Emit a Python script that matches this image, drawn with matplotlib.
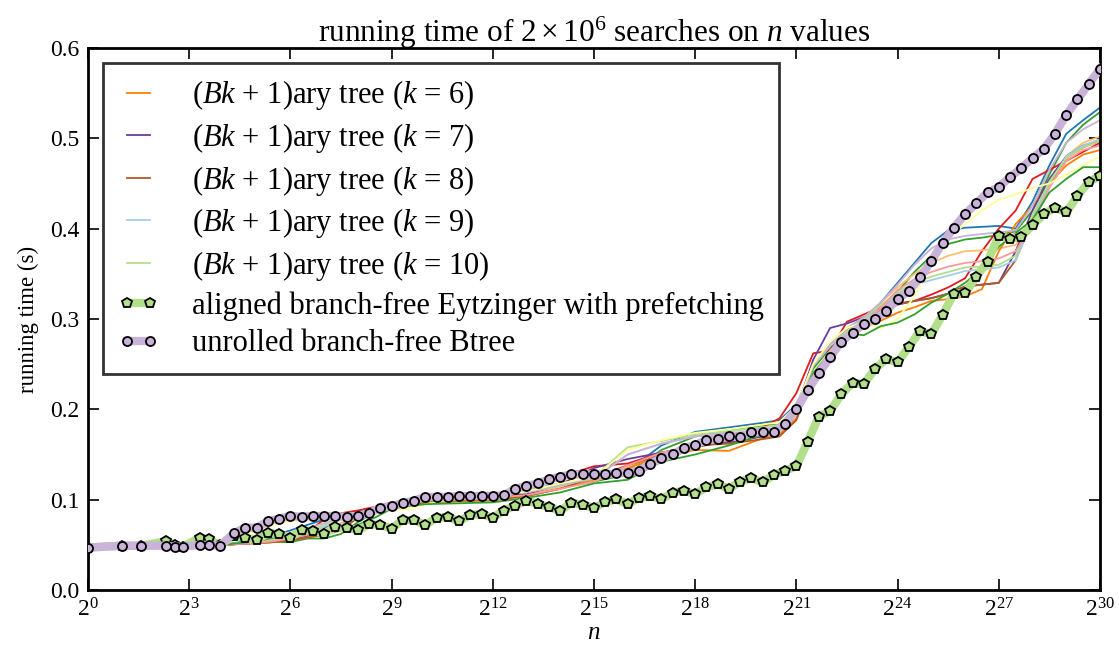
import numpy as np
import matplotlib
matplotlib.use("Agg")
import matplotlib.pyplot as plt
from matplotlib.ticker import FixedLocator, NullLocator

plt.rcParams['font.family'] = ['Liberation Serif', 'DejaVu Serif']
plt.rcParams['mathtext.fontset'] = 'custom'
plt.rcParams['mathtext.rm'] = 'Liberation Serif'
plt.rcParams['mathtext.it'] = 'Liberation Serif:italic'

# ---------------------------------------------------------------------
# x grid of the two highlighted series (log2 n)
marker_log2n = [0, 1, 1.58, 2.32, 2.58, 2.81, 3.32, 3.58, 3.91] + [k / 3 for k in range(13, 91)]

btree = [0.047, 0.049, 0.049, 0.049, 0.048, 0.048, 0.050, 0.050, 0.049,
         0.063, 0.069, 0.069, 0.076, 0.079, 0.082, 0.081, 0.082, 0.082, 0.082,
         0.081, 0.082, 0.085, 0.091, 0.093, 0.096, 0.099, 0.103, 0.103, 0.103,
         0.104, 0.104, 0.104, 0.104, 0.105, 0.112, 0.115, 0.118, 0.1225, 0.1255,
         0.128, 0.128, 0.128, 0.128, 0.129, 0.130, 0.132, 0.140, 0.146, 0.150,
         0.157, 0.1605, 0.166, 0.167, 0.170, 0.169, 0.1746, 0.1746, 0.175, 0.184,
         0.200, 0.221, 0.240, 0.2576, 0.275, 0.285, 0.2945, 0.300, 0.309, 0.322,
         0.331, 0.346, 0.364, 0.384, 0.401, 0.416, 0.428, 0.440, 0.446, 0.457,
         0.467, 0.478, 0.488, 0.505, 0.526, 0.543, 0.560, 0.577]

eytzinger = [0.047, 0.049, 0.049, 0.054, 0.050, 0.048, 0.058, 0.056, 0.050,
             0.060, 0.058, 0.055, 0.063, 0.062, 0.058, 0.066, 0.0655, 0.062,
             0.070, 0.069, 0.066, 0.073, 0.072, 0.068, 0.0775, 0.0775, 0.072,
             0.080, 0.081, 0.076, 0.083, 0.084, 0.080, 0.088, 0.0934, 0.099,
             0.095, 0.092, 0.0875, 0.0967, 0.094, 0.091, 0.097, 0.1004, 0.095,
             0.102, 0.104, 0.1007, 0.1077, 0.110, 0.106, 0.1137, 0.117, 0.112,
             0.120, 0.124, 0.119, 0.1275, 0.132, 0.137, 0.164, 0.192, 0.198,
             0.2166, 0.2295, 0.2277, 0.245, 0.2557, 0.252, 0.269, 0.2867, 0.283,
             0.3045, 0.328, 0.3284, 0.347, 0.3635, 0.392, 0.389, 0.391, 0.404,
             0.416, 0.4233, 0.418, 0.436, 0.452, 0.458]

# x grid of the thin (Bk+1)ary tree lines (log2 n)
tree_log2n = [0, 1, 2, 3, 4, 4.5, 5, 5.5, 6, 6.5, 7, 7.5, 8, 8.5, 9, 9.5, 10,
              11, 12, 13, 14, 15, 16, 17, 18, 19, 20, 20.5, 21, 21.5, 22, 22.5,
              23, 23.5, 24, 24.5, 25, 25.5, 26, 26.5, 27, 27.5, 28, 28.5, 29,
              29.5, 30]
start = [0.047, 0.049, 0.049, 0.050, 0.050]

tree_k = [2, 3, 4, 5, 6, 7, 8, 9, 10, 11, 12, 13, 14]
tree_times = {
    2: start + [0.053, 0.055, 0.060, 0.066, 0.072, 0.078, 0.082, 0.086, 0.090, 0.095, 0.099, 0.103, 0.106, 0.106,
                0.110, 0.118, 0.123, 0.132, 0.160, 0.175, 0.180, 0.185,
                0.188, 0.205, 0.248, 0.270, 0.288, 0.300, 0.318, 0.340, 0.362, 0.384, 0.398, 0.401, 0.402, 0.403,
                0.400, 0.430, 0.470, 0.505, 0.520, 0.534],
    3: start + [0.052, 0.052, 0.053, 0.053, 0.057, 0.057, 0.062, 0.075, 0.086, 0.090, 0.094, 0.098, 0.100, 0.101,
                0.107, 0.113, 0.120, 0.128, 0.155, 0.170, 0.176, 0.182,
                0.183, 0.200, 0.245, 0.268, 0.283, 0.295, 0.310, 0.330, 0.352, 0.370, 0.383, 0.388, 0.390, 0.393,
                0.397, 0.420, 0.460, 0.495, 0.515, 0.529],
    4: start + [0.051, 0.053, 0.056, 0.058, 0.064, 0.078, 0.085, 0.088, 0.092, 0.097, 0.099, 0.101, 0.103, 0.104,
                0.110, 0.125, 0.137, 0.140, 0.152, 0.158, 0.165, 0.180,
                0.190, 0.218, 0.262, 0.265, 0.297, 0.305, 0.313, 0.317, 0.320, 0.327, 0.335, 0.345, 0.375, 0.400,
                0.420, 0.455, 0.465, 0.475, 0.485, 0.495],
    5: start + [0.051, 0.052, 0.055, 0.057, 0.060, 0.064, 0.072, 0.084, 0.088, 0.092, 0.095, 0.098, 0.100, 0.101,
                0.106, 0.114, 0.120, 0.135, 0.150, 0.162, 0.168, 0.172,
                0.178, 0.198, 0.240, 0.265, 0.285, 0.298, 0.318, 0.335, 0.350, 0.362, 0.370, 0.375, 0.376, 0.378,
                0.382, 0.410, 0.450, 0.480, 0.495, 0.502],
    6: start + [0.051, 0.052, 0.053, 0.055, 0.058, 0.062, 0.070, 0.082, 0.087, 0.091, 0.094, 0.097, 0.098, 0.099,
                0.104, 0.112, 0.122, 0.135, 0.148, 0.155, 0.154, 0.168,
                0.172, 0.190, 0.235, 0.258, 0.278, 0.290, 0.298, 0.307, 0.313, 0.320, 0.322, 0.325, 0.333, 0.375,
                0.405, 0.425, 0.450, 0.470, 0.482, 0.487],
    7: start + [0.051, 0.052, 0.054, 0.056, 0.060, 0.068, 0.080, 0.086, 0.090, 0.095, 0.098, 0.101, 0.103, 0.104,
                0.106, 0.117, 0.135, 0.145, 0.152, 0.160, 0.163, 0.170,
                0.176, 0.200, 0.255, 0.290, 0.295, 0.302, 0.310, 0.316, 0.320, 0.323, 0.328, 0.336, 0.338, 0.340,
                0.375, 0.420, 0.455, 0.480, 0.492, 0.497],
    8: start + [0.051, 0.052, 0.053, 0.055, 0.058, 0.061, 0.066, 0.080, 0.086, 0.090, 0.094, 0.097, 0.099, 0.100,
                0.104, 0.112, 0.125, 0.138, 0.150, 0.160, 0.162, 0.167,
                0.170, 0.188, 0.238, 0.262, 0.282, 0.296, 0.308, 0.316, 0.320, 0.323, 0.328, 0.336, 0.338, 0.340,
                0.365, 0.410, 0.450, 0.478, 0.490, 0.497],
    9: start + [0.052, 0.053, 0.055, 0.058, 0.063, 0.070, 0.078, 0.084, 0.089, 0.094, 0.099, 0.102, 0.105, 0.106,
                0.110, 0.117, 0.123, 0.150, 0.162, 0.170, 0.176, 0.180,
                0.182, 0.200, 0.248, 0.270, 0.285, 0.298, 0.312, 0.328, 0.338, 0.343, 0.348, 0.353, 0.355, 0.357,
                0.365, 0.410, 0.450, 0.480, 0.492, 0.499],
    10: start + [0.052, 0.053, 0.056, 0.060, 0.065, 0.072, 0.079, 0.085, 0.090, 0.094, 0.098, 0.101, 0.104, 0.105,
                 0.108, 0.115, 0.125, 0.158, 0.165, 0.172, 0.176, 0.180,
                 0.183, 0.202, 0.250, 0.272, 0.287, 0.300, 0.315, 0.330, 0.340, 0.347, 0.352, 0.357, 0.358, 0.360,
                 0.370, 0.415, 0.452, 0.478, 0.490, 0.497],
    11: start + [0.051, 0.052, 0.054, 0.057, 0.061, 0.065, 0.074, 0.083, 0.088, 0.093, 0.096, 0.099, 0.101, 0.102,
                 0.105, 0.112, 0.120, 0.138, 0.152, 0.160, 0.166, 0.172,
                 0.176, 0.196, 0.236, 0.258, 0.282, 0.296, 0.312, 0.332, 0.344, 0.352, 0.358, 0.362, 0.364, 0.367,
                 0.375, 0.405, 0.445, 0.475, 0.487, 0.492],
    12: start + [0.052, 0.054, 0.058, 0.063, 0.068, 0.074, 0.080, 0.085, 0.090, 0.094, 0.098, 0.101, 0.104, 0.105,
                 0.108, 0.116, 0.124, 0.150, 0.162, 0.170, 0.174, 0.176,
                 0.180, 0.200, 0.248, 0.272, 0.290, 0.302, 0.318, 0.338, 0.360, 0.378, 0.388, 0.392, 0.394, 0.396,
                 0.398, 0.425, 0.465, 0.495, 0.510, 0.520],
    13: start + [0.058, 0.066, 0.072, 0.076, 0.078, 0.080, 0.081, 0.083, 0.088, 0.089, 0.089, 0.095, 0.102, 0.105,
                 0.109, 0.118, 0.125, 0.155, 0.166, 0.174, 0.178, 0.183,
                 0.186, 0.204, 0.250, 0.275, 0.290, 0.297, 0.290, 0.300, 0.325, 0.365, 0.390, 0.405, 0.420, 0.432,
                 0.438, 0.445, 0.450, 0.460, 0.470, 0.480],
    14: start + [0.052, 0.054, 0.058, 0.060, 0.062, 0.064, 0.068, 0.072, 0.080, 0.090, 0.093, 0.095, 0.096, 0.097,
                 0.102, 0.108, 0.118, 0.122, 0.142, 0.150, 0.160, 0.172,
                 0.175, 0.195, 0.240, 0.262, 0.284, 0.282, 0.292, 0.296, 0.305, 0.318, 0.328, 0.340, 0.355, 0.380,
                 0.395, 0.410, 0.440, 0.455, 0.468, 0.468],
}
tree_colors = {2: '#1f78b4', 3: '#33a02c', 4: '#e31a1c', 5: '#fdbf6f', 6: '#ff7f00',
               7: '#6a3d9a', 8: '#b15928', 9: '#a6cee3', 10: '#b2df8a', 11: '#fb9a99',
               12: '#cab2d6', 13: '#ffff99', 14: '#33a02c'}
legend_k = [6, 7, 8, 9, 10]

# ---------------------------------------------------------------------
fig = plt.figure(figsize=(11.19, 6.48), dpi=100)
ax = fig.add_axes([0.0786, 0.0895, 0.9044, 0.8365])

n_tree = 2.0 ** np.array(tree_log2n)
for k in tree_k:
    lbl = f"($Bk$ + 1)ary tree ($k$ = {k})" if k in legend_k else "_nolegend_"
    ax.plot(n_tree, tree_times[k], color=tree_colors[k], lw=1.3, label=lbl, zorder=2)

n_mark = 2.0 ** np.array(marker_log2n)
ax.plot(n_mark, eytzinger, color='#b2df8a', lw=6, marker='p', ms=7,
        mfc='#b2df8a', mec='black', mew=1.3,
        label="aligned branch-free Eytzinger with prefetching", zorder=3)
ax.plot(n_mark, btree, color='#c9b3d9', lw=6, marker='o', ms=6.5,
        mfc='#c9b3d9', mec='black', mew=1.3,
        label="unrolled branch-free Btree", zorder=4)

ax.set_xscale('log', base=2)
ax.set_xlim(1, 2.0 ** 30)
ax.set_ylim(0, 0.6)
ax.xaxis.set_major_locator(FixedLocator([2.0 ** e for e in range(0, 31, 3)]))
ax.xaxis.set_minor_locator(NullLocator())
ax.set_xticklabels([rf"$2^{{{e}}}$" for e in range(0, 31, 3)])
ax.set_yticks([0.0, 0.1, 0.2, 0.3, 0.4, 0.5, 0.6])
ax.set_yticklabels(["0.0", "0.1", "0.2", "0.3", "0.4", "0.5", "0.6"])

ax.tick_params(direction='in', length=8, width=1.2, top=True, right=True,
               labelsize=17, pad=6)
for s in ax.spines.values():
    s.set_linewidth(2)

ax.set_xlabel(r"$n$", fontsize=18, labelpad=0)
ax.set_ylabel("running time (s)", fontsize=16.5, labelpad=8)
ax.set_title(r"running time of $2\times10^6$ searches on $n$ values", fontsize=22.5, pad=4)

leg = ax.legend(loc='upper left', fontsize=22, frameon=True, fancybox=False,
                edgecolor='#333333', framealpha=1, handlelength=1.35,
                handletextpad=1.05, numpoints=2, borderaxespad=0,
                borderpad=0.5, labelspacing=0.28, bbox_to_anchor=(0.0148, 0.972))
leg.get_frame().set_linewidth(2)

fig.savefig("out.png", dpi=100)
